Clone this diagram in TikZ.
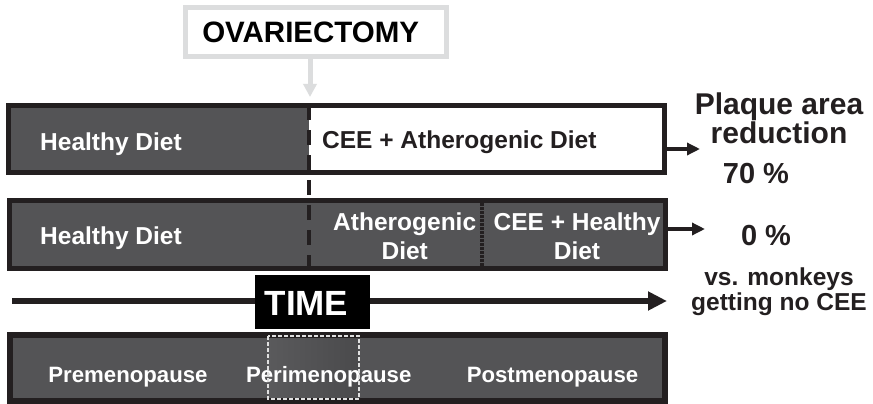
\documentclass[tikz,border=0pt]{standalone}
\usepackage{fontspec}
\setmainfont{Liberation Sans}
\usetikzlibrary{arrows.meta}

\definecolor{panel}{RGB}{84,84,86}
\definecolor{edge}{RGB}{35,31,32}
\definecolor{pale}{RGB}{220,221,222}
\definecolor{glowL}{RGB}{90,90,92}
\definecolor{glowR}{RGB}{74,74,76}

\begin{document}
\begin{tikzpicture}[x=1pt, y=-1pt,
  frame/.style={draw=edge, line width=5pt},
  diet/.style={text=white, inner sep=0pt, align=center, font=\fontsize{24.5}{29}\selectfont\bfseries},
  phase/.style={text=white, inner sep=0pt, anchor=base, font=\fontsize{22.2}{26}\selectfont\bfseries},
  result/.style={text=edge, inner sep=0pt, align=center, font=\fontsize{30}{29}\selectfont\bfseries},
  outarrow/.style={draw=edge, line width=4pt, -{Triangle[length=13pt,width=12pt]}}]
  \fill[white] (0,0) rectangle (873,404);
  \useasboundingbox (0,0) rectangle (873,404);
  % ovariectomy label
  \node[draw=pale, line width=5pt, minimum width=261pt, minimum height=49pt, inner sep=0pt] (ovx) at (316,32) {};
  \node[inner sep=0pt, anchor=base, text=black, font=\fontsize{29.5}{34}\selectfont\bfseries] (ovxtext) at (310.7,42.7) {OVARIECTOMY};
  \coordinate (cut) at (310,97);
  \draw[pale, line width=5pt, -{Triangle[length=13pt,width=13pt]}] (ovx.south -| cut) -- (cut);
  % first group
  \fill[panel] (8,105) rectangle (309,172.5);
  % second group
  \fill[panel] (9.5,200.5) rectangle (665.5,268);
  \draw[edge, line width=3.5pt, dash pattern=on 2.5pt off 1.5pt] (482,203) -- (482,266);
  % surgery line
  \draw[edge, line width=4pt, dash pattern=on 15pt off 10pt] (309,105) -- (309,268);
  \draw[frame] (8,105) rectangle (664.5,172.5);
  \draw[frame] (9.5,200.5) rectangle (665.5,268);
  % diet labels
  \node[diet, anchor=base west] (healthyA) at (40,150) {Healthy Diet};
  \node[diet, anchor=base west, text=edge] (ceeath) at (322,148.5) {CEE + Atherogenic Diet};
  \node[diet, anchor=base west] (healthyB) at (40,244.5) {Healthy Diet};
  \node[diet, anchor=north] (athero) at (404.7,212.5) {Atherogenic\\Diet};
  \node[diet, anchor=north] (ceehealthy) at (577,212.5) {CEE + Healthy\\Diet};
  % outcomes
  \coordinate (rowA) at (664.5,149);
  \coordinate (resA) at (700,149);
  \coordinate (rowB) at (665.5,229);
  \coordinate (resB) at (705,229);
  \draw[outarrow] (rowA) -- (resA);
  \draw[outarrow] (rowB) -- (resB);
  \node[result, anchor=north] (plaque) at (779,92.5) {Plaque area\\reduction};
  \node[result, anchor=base, font=\fontsize{29}{34}\selectfont\bfseries] (seventy) at (756,183) {70 \%};
  \node[result, anchor=base, font=\fontsize{29}{34}\selectfont\bfseries] (zero) at (766,245) {0 \%};
  \node[result, anchor=north, font=\fontsize{24.5}{24.3}\selectfont\bfseries] (versus) at (779,268) {vs. monkeys\\getting no CEE};
  % time axis
  \coordinate (t0) at (12,301);
  \coordinate (t1) at (667,301);
  \draw[edge, line width=6pt, -{Triangle[length=19pt,width=18pt]}] (t0) -- (t1);
  \node[fill=black, minimum width=115pt, minimum height=54pt, inner sep=0pt] (timebox) at (312.5,302) {};
  \node[inner sep=0pt, anchor=base, text=white, font=\fontsize{35}{40}\selectfont\bfseries] (timetext) at (306.5,315) {TIME};
  % menopause stages
  \fill[panel] (10,335) rectangle (665,401);
  \shade[left color=glowL, right color=glowR] (268,336) rectangle (359,399);
  \draw[frame, line width=6pt] (10,335) rectangle (665,401);
  \node[phase] (pre) at (128,382) {Premenopause};
  \node[phase] (peri) at (328.7,382) {Perimenopause};
  \node[phase] (post) at (552.5,382) {Postmenopause};
  \draw[white!88!black, line width=2pt, dash pattern=on 4pt off 2pt] (268,336) rectangle (359,399);
\end{tikzpicture}
\end{document}
